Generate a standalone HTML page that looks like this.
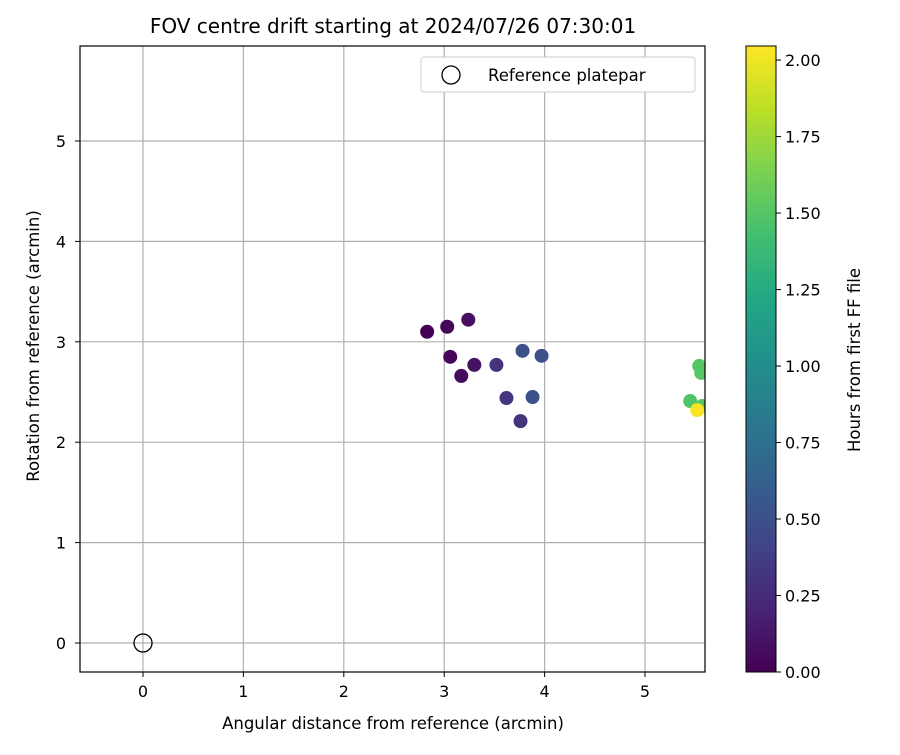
<!DOCTYPE html>
<html><head><meta charset="utf-8"><style>
body{margin:0;background:#fff;}
svg text{font-family:"DejaVu Sans","Liberation Sans",sans-serif;fill:#000;}
</style></head><body>
<svg id="chart" width="900" height="750" xmlns="http://www.w3.org/2000/svg">
<defs>
<linearGradient id="vir" x1="0" y1="1" x2="0" y2="0">
<stop offset="0" stop-color="#440154"/><stop offset="0.1" stop-color="#482475"/><stop offset="0.2" stop-color="#414487"/><stop offset="0.3" stop-color="#355f8d"/><stop offset="0.4" stop-color="#2a788e"/><stop offset="0.5" stop-color="#21918c"/><stop offset="0.6" stop-color="#22a884"/><stop offset="0.7" stop-color="#44bf70"/><stop offset="0.8" stop-color="#7ad151"/><stop offset="0.9" stop-color="#bddf26"/><stop offset="1" stop-color="#fde725"/>
</linearGradient>
<clipPath id="plotclip"><rect x="80" y="46" width="625" height="626"/></clipPath>
</defs>
<text x="393" y="33" font-size="20" text-anchor="middle">FOV centre drift starting at 2024/07/26 07:30:01</text>
<g id="grid"></g>
<g id="points" clip-path="url(#plotclip)"></g>
<rect x="80" y="46" width="625" height="626" fill="none" stroke="#000" stroke-width="1.2"/>
<g id="ticks"></g>
<text x="393" y="729" font-size="16.5" text-anchor="middle">Angular distance from reference (arcmin)</text>
<text x="39" y="346" font-size="16.5" text-anchor="middle" transform="rotate(-90 39 346)">Rotation from reference (arcmin)</text>
<g>
<rect x="421" y="57" width="274" height="35" rx="3" fill="#fff" stroke="#ccc"/>
<circle cx="451" cy="75" r="9" fill="none" stroke="#000" stroke-width="1.3"/>
<text x="488" y="81" font-size="16.5">Reference platepar</text>
</g>
<rect x="746" y="46" width="30" height="626" fill="url(#vir)" stroke="#000" stroke-width="1"/>
<g id="cbticks"></g>
<text x="860" y="360" font-size="16.5" text-anchor="middle" transform="rotate(-90 860 360)">Hours from first FF file</text>
</svg>
<script>
const xVals=[2.83,3.03,3.24,3.06,3.30,3.17,3.52,3.62,3.78,3.97,3.88,3.76,5.54,5.56,5.45,5.57,5.52];
const yVals=[3.10,3.15,3.22,2.85,2.77,2.66,2.77,2.44,2.91,2.86,2.45,2.21,2.76,2.69,2.41,2.36,2.32];
const hours=[0.0,0.03,0.08,0.03,0.1,0.06,0.3,0.3,0.5,0.5,0.5,0.3,1.5,1.5,1.48,1.5,2.03];
const xTicks=[0,1,2,3,4,5];
const yTicks=[0,1,2,3,4,5];
const cbTicks=["0.00","0.25","0.50","0.75","1.00","1.25","1.50","1.75","2.00"];
const NS="http://www.w3.org/2000/svg";
const sx=v=>143+v*100.4, sy=v=>643-v*100.4, cy=v=>672-v*(626/2.046);
const vir=["#440154","#482475","#414487","#355f8d","#2a788e","#21918c","#22a884","#44bf70","#7ad151","#bddf26","#fde725"];
function hex(h){return [1,3,5].map(i=>parseInt(h.substr(i,2),16));}
function col(h){let t=Math.max(0,Math.min(1,h/2.046))*10,i=Math.min(9,Math.floor(t)),f=t-i,a=hex(vir[i]),b=hex(vir[i+1]);return "rgb("+a.map((v,k)=>Math.round(v+(b[k]-v)*f)).join(",")+")";}
function mk(tag,at,parent){const e=document.createElementNS(NS,tag);for(const k in at)e.setAttribute(k,at[k]);document.getElementById(parent).appendChild(e);return e;}
xTicks.forEach(v=>{
const g=mk("line",{x1:sx(v),x2:sx(v),y1:46,y2:672,stroke:"#b0b0b0","stroke-width":1.2},"grid");


const t=mk("line",{x1:sx(v),x2:sx(v),y1:672,y2:677,stroke:"#000"},"ticks");


const l=mk("text",{x:sx(v),y:697,"font-size":16,"text-anchor":"middle"},"ticks");l.textContent=v;


});
yTicks.forEach(v=>{
const g=mk("line",{x1:80,x2:705,y1:sy(v),y2:sy(v),stroke:"#b0b0b0","stroke-width":1.2},"grid");


const t=mk("line",{x1:75,x2:80,y1:sy(v),y2:sy(v),stroke:"#000"},"ticks");


const l=mk("text",{x:66,y:sy(v)+6,"font-size":16,"text-anchor":"end"},"ticks");l.textContent=v;


});
cbTicks.forEach(s=>{
const v=parseFloat(s);
const t=mk("line",{x1:776,x2:781,y1:cy(v),y2:cy(v),stroke:"#000"},"cbticks");


const l=mk("text",{x:785,y:cy(v)+6,"font-size":16},"cbticks");l.textContent=s;


});
const ref=mk("circle",{cx:sx(0),cy:sy(0),r:9,fill:"none",stroke:"#000","stroke-width":1.3},"points");


xVals.forEach((x,i)=>{
const c=mk("circle",{cx:sx(x),cy:sy(yVals[i]),r:7,fill:col(hours[i])},"points");


});
</script>
</body></html>
